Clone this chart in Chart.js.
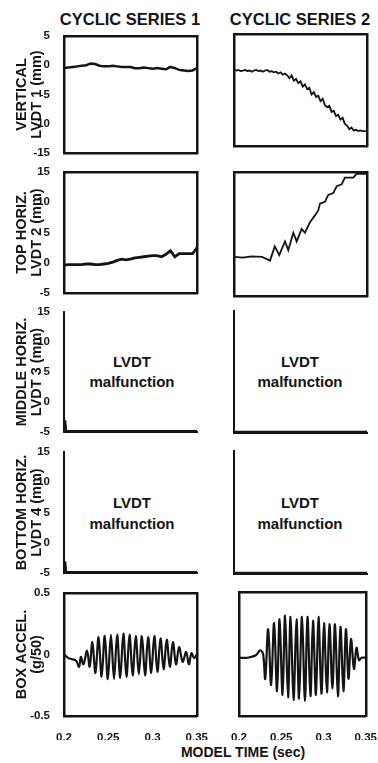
<!DOCTYPE html>
<html>
<head>
<meta charset="utf-8">
<script src="https://cdn.jsdelivr.net/npm/chart.js@4.4.1/dist/chart.umd.min.js"></script>
<style>
  body { margin: 0; width: 378px; height: 763px; background: #fff; position: relative; overflow: hidden;
         font-family: "Liberation Sans", Arial, sans-serif; color: #141414; }
  canvas { position: absolute; }
  .lbl { position: absolute; font-weight: bold; white-space: nowrap; transform: translateX(-50%); line-height: 1; }
</style>
</head>
<body>
<div class="lbl" style="left:130px;top:11px;font-size:16.5px">CYCLIC SERIES 1</div>
<div class="lbl" style="left:300px;top:11px;font-size:16.5px">CYCLIC SERIES 2</div>

<div class="lbl" style="left:132px;top:354px;font-size:15px">LVDT</div>
<div class="lbl" style="left:132px;top:374px;font-size:15px">malfunction</div>
<div class="lbl" style="left:300px;top:354px;font-size:15px">LVDT</div>
<div class="lbl" style="left:300px;top:374px;font-size:15px">malfunction</div>
<div class="lbl" style="left:132px;top:495px;font-size:15px">LVDT</div>
<div class="lbl" style="left:132px;top:516px;font-size:15px">malfunction</div>
<div class="lbl" style="left:300px;top:495px;font-size:15px">LVDT</div>
<div class="lbl" style="left:300px;top:516px;font-size:15px">malfunction</div>

<div class="lbl" style="left:243px;top:745px;font-size:14px">MODEL TIME (sec)</div>

<script>
// tick values
const xTicks = [0.2, 0.25, 0.3, 0.35];
const yTicksVert = [5, 0, -5, -10, -15];
const yTicksHoriz = [15, 10, 5, 0, -5];
const yTicksAccel = [0.5, 0, -0.5];

// row titles (y axis, left column only)
const titleVert = ["VERTICAL", "LVDT 1 (mm)"];
const titleTop = ["TOP HORIZ.", "LVDT 2 (mm)"];
const titleMid = ["MIDDLE HORIZ.", "LVDT 3 (mm)"];
const titleBot = ["BOTTOM HORIZ.", "LVDT 4 (mm)"];
const titleAccel = ["BOX ACCEL.", "(g/50)"];

// vertical LVDT 1, series 1
const tVert1 = [0.2, 0.205, 0.21, 0.215, 0.22, 0.225, 0.23, 0.235, 0.24, 0.245, 0.25, 0.255, 0.26, 0.265, 0.27,
  0.275, 0.28, 0.285, 0.29, 0.295, 0.3, 0.305, 0.31, 0.315, 0.32, 0.325, 0.33, 0.335, 0.34, 0.345, 0.35];
const vVert1 = [-0.5, -0.4, -0.3, -0.2, -0.1, 0.0, 0.3, 0.2, -0.1, -0.2, -0.2, -0.1, -0.2, -0.3, -0.3,
  -0.3, -0.5, -0.5, -0.4, -0.5, -0.6, -0.5, -0.6, -0.7, -0.3, -0.5, -0.8, -0.9, -1.0, -0.9, -0.5];

// vertical LVDT 1, series 2
const tVert2 = [0.2, 0.2025, 0.205, 0.2075, 0.21, 0.2125, 0.215, 0.2175, 0.22, 0.2225, 0.225, 0.2275, 0.23,
  0.2325, 0.235, 0.2375, 0.24, 0.2425, 0.245, 0.2475, 0.25, 0.2525, 0.255, 0.2575, 0.26, 0.2625, 0.265, 0.2675,
  0.27, 0.2725, 0.275, 0.2775, 0.28, 0.2825, 0.285, 0.2875, 0.29, 0.2925, 0.295, 0.2975, 0.3, 0.3025, 0.305,
  0.3075, 0.31, 0.3125, 0.315, 0.3175, 0.32, 0.3225, 0.325, 0.3275, 0.33, 0.3325, 0.335, 0.3375, 0.34, 0.3425,
  0.345, 0.3475, 0.35];
const vVert2 = [-1.0, -1.1, -1.0, -1.2, -1.1, -1.0, -1.2, -1.1, -1.3, -1.1, -1.0, -1.2, -1.1,
  -1.3, -1.1, -1.0, -1.3, -1.2, -1.4, -1.3, -1.6, -1.4, -1.8, -1.6, -1.9, -2.4, -1.9, -2.8,
  -2.5, -3.2, -2.9, -3.8, -3.4, -4.2, -4.0, -5.1, -4.7, -5.5, -5.3, -6.2, -5.8, -6.9, -7.2,
  -7.0, -8.0, -7.8, -8.7, -8.5, -9.3, -9.0, -10.0, -10.3, -10.9, -10.6, -11.1, -11.0, -11.2, -11.1,
  -11.2, -11.2, -11.2];

// top horiz. LVDT 2, series 1
const tTop1 = tVert1;
const vTop1 = [-0.4, -0.3, -0.3, -0.3, -0.3, -0.2, -0.2, -0.3, -0.3, -0.2, -0.1, 0.1, 0.4, 0.6, 0.5,
  0.6, 0.8, 0.9, 1.0, 1.1, 1.2, 1.2, 1.0, 1.4, 2.0, 1.0, 1.5, 1.5, 1.5, 1.5, 2.5];

// top horiz. LVDT 2, series 2
const tTop2 = [0.2, 0.21, 0.22, 0.2316, 0.2406, 0.246, 0.251, 0.2575, 0.2612, 0.2669, 0.2707, 0.2763, 0.28,
  0.2857, 0.2913, 0.295, 0.297, 0.3026, 0.3063, 0.312, 0.3158, 0.3214, 0.325, 0.3345, 0.3383, 0.35];
const vTop2 = [1.3, 1.2, 1.4, 1.3, 0.7, 3.0, 1.6, 3.8, 2.4, 5.2, 3.8, 5.8, 5.2,
  6.9, 8.0, 8.8, 9.9, 10.2, 11.3, 11.6, 12.7, 13.0, 14.1, 14.1, 14.7, 14.7];

// middle / bottom horiz. (malfunction, trace lies on the axis)
const tFlat1 = [0.2, 0.2015, 0.2025, 0.35];
const vFlat1 = [-3.2, -3.2, -4.8, -4.8];
const tFlat2 = [0.2, 0.35];
const vFlat2 = [-4.8, -4.8];

// box accel., series 1
const tAcc1 = [0.2, 0.205, 0.21, 0.2136, 0.217, 0.219, 0.222, 0.226, 0.229, 0.232, 0.2355, 0.239, 0.2425,
  0.246, 0.2495, 0.253, 0.2565, 0.26, 0.2635, 0.267, 0.2705, 0.274, 0.2775, 0.281, 0.2845, 0.288, 0.2915,
  0.295, 0.2985, 0.302, 0.3055, 0.309, 0.3125, 0.316, 0.3195, 0.323, 0.3265, 0.33, 0.334, 0.338, 0.341,
  0.344, 0.347, 0.35];
const vAcc1 = [0.0, -0.03, -0.04, -0.05, -0.1, -0.02, -0.08, 0.03, -0.1, 0.1, -0.15, 0.14, -0.18,
  0.15, -0.2, 0.16, -0.2, 0.16, -0.19, 0.17, -0.18, 0.16, -0.17, 0.15, -0.16, 0.15, -0.17,
  0.14, -0.15, 0.15, -0.14, 0.13, -0.12, 0.12, -0.1, 0.1, -0.08, 0.06, -0.06, 0.02, -0.08,
  0.01, -0.03, 0.0];

// box accel., series 2
const tAcc2 = [0.2, 0.21, 0.22, 0.225, 0.2285, 0.231, 0.2345, 0.238, 0.2415, 0.245, 0.248, 0.2515, 0.2545,
  0.258, 0.261, 0.2645, 0.268, 0.271, 0.2745, 0.278, 0.281, 0.2845, 0.2875, 0.291, 0.294, 0.2975, 0.3005,
  0.304, 0.307, 0.3105, 0.3135, 0.317, 0.32, 0.3235, 0.3265, 0.3295, 0.3325, 0.336, 0.339, 0.342, 0.345, 0.35];
const vAcc2 = [-0.03, -0.03, -0.01, 0.03, 0.0, -0.2, 0.2, -0.25, 0.25, -0.3, 0.28, -0.33, 0.31,
  -0.35, 0.3, -0.37, 0.28, -0.36, 0.3, -0.38, 0.3, -0.34, 0.27, -0.33, 0.3, -0.32, 0.25,
  -0.31, 0.24, -0.28, 0.24, -0.34, 0.22, -0.3, 0.2, -0.2, 0.12, -0.12, 0.05, -0.05, -0.03, -0.03];

Chart.defaults.font.family = '"Liberation Sans", Arial, sans-serif';
Chart.defaults.font.weight = 'bold';
Chart.defaults.color = '#141414';

const INK = '#141414';

function panel(o) {
  const leftCol = o.col === 0;
  const cx = leftCol ? 0 : 224;
  const cw = leftCol ? 215 : 160;
  const areaRight = leftCol ? 197 : 367;
  const padTop = 12;
  const bottomAxis = o.xLabels ? 24 : 0;
  const padBottom = o.xLabels ? 2 : 12;
  const h = padTop + (o.bottom - o.top) + bottomAxis + padBottom;

  const cv = document.createElement('canvas');
  cv.width = cw;
  cv.height = h;
  cv.style.left = cx + 'px';
  cv.style.top = (o.top - padTop) + 'px';
  cv.style.width = cw + 'px';
  cv.style.height = h + 'px';
  document.body.appendChild(cv);

  const bw = o.box ? 2.5 : 2;
  // top and right edges of the frame
  const edge = (axis, pos) => ({
    type: 'linear',
    axis: axis,
    position: pos,
    display: !!o.box,
    grid: { display: false },
    ticks: { display: false },
    border: { display: true, width: bw, color: INK },
    afterFit: (s) => {
      if (axis === 'x') s.height = 0;
      else s.width = 0;
    },
  });

  new Chart(cv, {
    type: 'line',
    data: {
      datasets: [
        {
          data: o.t.map((x, i) => ({ x: x, y: o.v[i] })),
          borderColor: INK,
          borderWidth: o.lw || 2,
          pointRadius: 0,
          tension: o.tension || 0,
          fill: false,
        },
      ],
    },
    options: {
      responsive: false,
      animation: false,
      events: [],
      layout: {
        padding: { top: padTop, bottom: padBottom, left: leftCol ? 0 : 10, right: cx + cw - areaRight },
      },
      plugins: { legend: { display: false }, tooltip: { enabled: false } },
      scales: {
        x: {
          type: 'linear',
          min: 0.2,
          max: 0.35,
          grid: { display: false },
          border: { display: true, width: bw, color: INK },
          ticks: {
            display: !!o.xLabels,
            padding: 7,
            font: { size: 11.5 },
            maxRotation: 0,
            autoSkip: false,
            callback: (v) => String(v),
          },
          afterBuildTicks: (s) => {
            s.ticks = xTicks.map((value) => ({ value }));
          },
          afterFit: (s) => {
            s.height = bottomAxis;
          },
        },
        y: {
          type: 'linear',
          min: o.min,
          max: o.max,
          grid: { display: false },
          border: { display: true, width: bw, color: INK },
          ticks: { display: leftCol, padding: 6, font: { size: 11.5 }, callback: (v) => String(v) },
          afterBuildTicks: (s) => {
            s.ticks = o.yTicks.map((value) => ({ value }));
          },
          title: {
            display: leftCol,
            text: o.title,
            color: INK,
            font: { size: 14.5, lineHeight: 1.08 },
            padding: { top: 14, bottom: 0 },
          },
          afterFit: (s) => {
            s.width = leftCol ? 64 : 0;
          },
        },
        xt: edge('x', 'top'),
        yr: edge('y', 'right'),
      },
    },
  });
}

// row 1: vertical
panel({ col: 0, top: 35, bottom: 154, min: -15, max: 5, yTicks: yTicksVert, title: titleVert, box: true, t: tVert1, v: vVert1, lw: 2.5 });
panel({ col: 1, top: 34, bottom: 146, min: -13.7, max: 5, yTicks: yTicksVert, box: true, t: tVert2, v: vVert2, lw: 1.8 });
// row 2: top horiz.
panel({ col: 0, top: 171, bottom: 294, min: -5, max: 15, yTicks: yTicksHoriz, title: titleTop, box: true, t: tTop1, v: vTop1, lw: 2.8 });
panel({ col: 1, top: 172, bottom: 296, min: -5, max: 15, yTicks: yTicksHoriz, box: true, t: tTop2, v: vTop2, lw: 1.8 });
// row 3: middle horiz.
panel({ col: 0, top: 311, bottom: 433, min: -5, max: 15, yTicks: yTicksHoriz, title: titleMid, box: false, t: tFlat1, v: vFlat1 });
panel({ col: 1, top: 311, bottom: 433, min: -5, max: 15, yTicks: yTicksHoriz, box: false, t: tFlat2, v: vFlat2 });
// row 4: bottom horiz.
panel({ col: 0, top: 451, bottom: 574, min: -5, max: 15, yTicks: yTicksHoriz, title: titleBot, box: false, t: tFlat1, v: vFlat1 });
panel({ col: 1, top: 451, bottom: 574, min: -5, max: 15, yTicks: yTicksHoriz, box: false, t: tFlat2, v: vFlat2 });
// row 5: box accel.
panel({ col: 0, top: 592, bottom: 716, min: -0.5, max: 0.5, yTicks: yTicksAccel, title: titleAccel, box: true, t: tAcc1, v: vAcc1, lw: 2.2, tension: 0.35, xLabels: true });
panel({ col: 1, top: 592, bottom: 716, min: -0.5, max: 0.5, yTicks: yTicksAccel, box: true, t: tAcc2, v: vAcc2, lw: 2.2, tension: 0.35, xLabels: true });
</script>
</body>
</html>
